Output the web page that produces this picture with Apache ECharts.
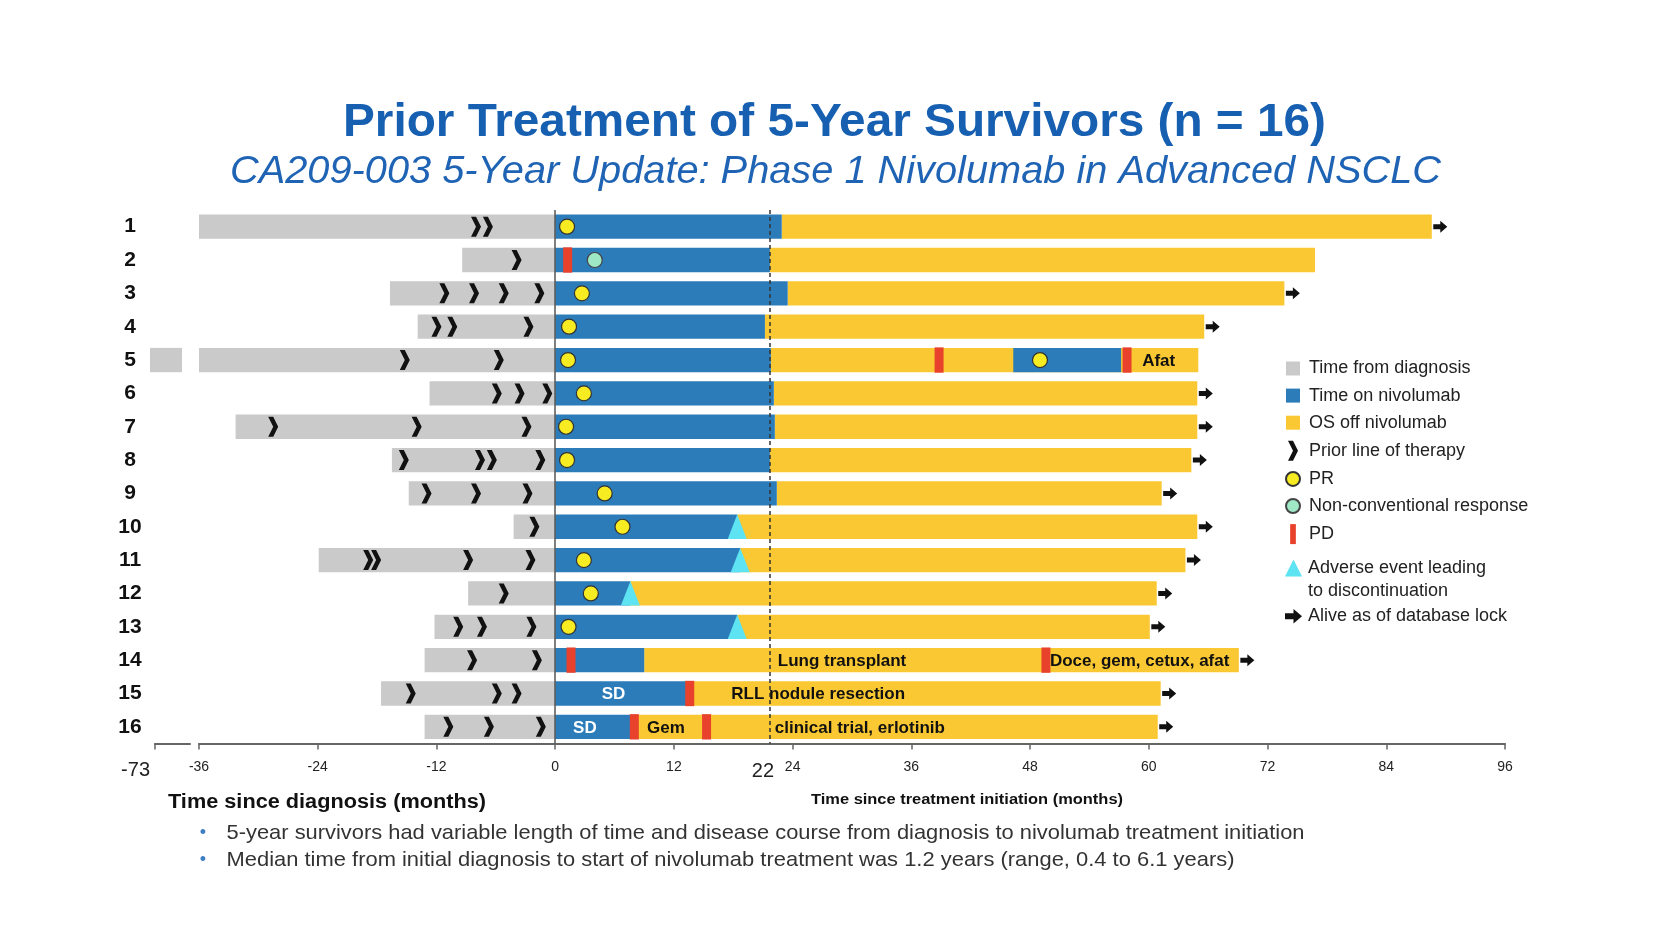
<!DOCTYPE html>
<html>
<head>
<meta charset="utf-8">
<script src="https://cdn.jsdelivr.net/npm/echarts@6/dist/echarts.min.js"></script>
<style>html,body{margin:0;padding:0;background:#fff}#chart{width:1680px;height:945px}</style>
</head>
<body>
<div id="chart"></div>
<script>
// ---------------- DATA ----------------
const patientIds = ['1','2','3','4','5','6','7','8','9','10','11','12','13','14','15','16'];
// months relative to nivolumab start (0)
const diagnosisStart = [-36.0, -9.4, -16.7, -13.9, -36.0, -12.7, -32.3, -16.5, -14.8, -4.2, -23.9, -8.8, -12.2, -13.2, -17.6, -13.2];
// patient 5 was diagnosed before the axis break (row index, start, end)
const earlyDiagnosis = [[4, -73.5, -70.3]];
const nivoEnd = [22.9, 21.7, 23.5, 21.2, 21.8, 22.1, 22.2, 21.7, 22.4, 18.4, 18.7, 7.6, 18.4, 9.0, 13.6, 8.0];
const osEnd = [88.6, 76.8, 73.7, 65.6, 65.0, 64.9, 64.9, 64.3, 61.3, 64.9, 63.7, 60.8, 60.1, 69.1, 61.2, 60.9];
const aliveAtLock = [1, 0, 1, 1, 0, 1, 1, 1, 1, 1, 1, 1, 1, 1, 1, 1];
const nivoRetreatment = [[4, 46.3, 57.2]];
const priorLines = [
  [-8.0, -6.8], [-3.9], [-11.2, -8.2, -5.2, -1.6], [-12.0, -10.4, -2.7],
  [-15.2, -5.7], [-5.9, -3.6, -0.8], [-28.5, -14.0, -2.9], [-15.3, -7.6, -6.4, -1.5],
  [-13.0, -8.0, -2.8], [-2.1], [-18.9, -18.1, -8.8, -2.5], [-5.2],
  [-9.8, -7.4, -2.4], [-8.4, -1.85], [-14.6, -5.9, -3.9], [-10.8, -6.7, -1.45]
];
const prRow = [1, 3, 4, 5, 5, 6, 7, 8, 9, 10, 11, 12, 13];
const prTime = [1.2, 2.7, 1.4, 1.3, 49.0, 2.9, 1.1, 1.2, 5.0, 6.8, 2.9, 3.6, 1.35];
const ncrRow = [2];
const ncrTime = [4.0];
const pdRow = [2, 5, 5, 14, 14, 15, 16, 16];
const pdTime = [1.26, 38.8, 57.8, 1.6, 49.6, 13.6, 8.0, 15.3];
const aeRow = [10, 11, 12, 13];
const aeTime = [18.4, 18.7, 7.6, 18.4];
const noteRow = [5, 14, 14, 15, 15, 16, 16, 16];
const noteTime = [61.0, 22.5, 50.0, 5.9, 17.8, 3.0, 11.2, 22.2];
const noteText = ['Afat', 'Lung transplant', 'Doce, gem, cetux, afat', 'SD', 'RLL nodule resection', 'SD', 'Gem', 'clinical trial, erlotinib'];
const noteAlign = ['center', 'left', 'left', 'center', 'left', 'center', 'center', 'left'];
const noteWhite = [0, 0, 0, 1, 0, 1, 0, 0];
const mainTicks = { min: -36, max: 96, interval: 12 };
const breakTick = -73;
const refLineValue = 21.7;
const refLineLabel = '22';

const titleText = 'Prior Treatment of 5-Year Survivors (n = 16)';
const subtitleText = 'CA209-003 5-Year Update: Phase 1 Nivolumab in Advanced NSCLC';
const xNameLeft = 'Time since diagnosis (months)';
const xNameRight = 'Time since treatment initiation (months)';
const bullets = [
  '5-year survivors had variable length of time and disease course from diagnosis to nivolumab treatment initiation',
  'Median time from initial diagnosis to start of nivolumab treatment was 1.2 years (range, 0.4 to 6.1 years)'
];
const legendNames = ['Time from diagnosis', 'Time on nivolumab', 'OS off nivolumab', 'Prior line of therapy', 'PR', 'Non-conventional response', 'PD', 'Adverse event leading to discontinuation', 'Alive as of database lock'];

// ---------------- STYLE ----------------
const FONT = '"Liberation Sans", Arial, Helvetica, sans-serif';
const GRAY = '#CACACA', BLUE = '#2C7CBA', YELLOW = '#FAC832', RED = '#E8412C', CYAN = '#5DE3F2';
const PRY = '#F7EB22', NCRC = '#9EE8C6';
const BAR_FRAC = 0.73;
const CHEVRON = 'path://M0,0 L5,0 L10,10 L5,20 L0,20 L5,10 Z';
const ARROW = 'path://M0,3.5 L7,3.5 L7,0 L14,6 L7,12 L7,8.5 L0,8.5 Z';

const mctx = document.createElement('canvas').getContext('2d');
function fit(text, font, width) { mctx.font = font; return width / mctx.measureText(text).width; }

function segRender(color) {
  return function (params, api) {
    const row = api.value(0);
    const p0 = api.coord([api.value(1), row]);
    const p1 = api.coord([api.value(2), row]);
    const h = api.size([0, 1])[1] * BAR_FRAC;
    return { type: 'rect', shape: { x: p0[0], y: p0[1] - h / 2, width: p1[0] - p0[0], height: h }, style: { fill: color } };
  };
}
function pdRender(params, api) {
  const p = api.coord([api.value(1), api.value(0)]);
  const h = api.size([0, 1])[1] * BAR_FRAC + 1;
  return { type: 'rect', shape: { x: p[0] - 4.5, y: p[1] - h / 2, width: 9, height: h }, style: { fill: RED } };
}
function aeRender(params, api) {
  const p = api.coord([api.value(1), api.value(0)]);
  const h = api.size([0, 1])[1] * BAR_FRAC;
  return { type: 'polygon', shape: { points: [[p[0] - 9.5, p[1] + h / 2], [p[0], p[1] - h / 2], [p[0] + 9.5, p[1] + h / 2]] }, style: { fill: CYAN } };
}
function noteRender(params, api) {
  const i = params.dataIndex;
  const p = api.coord([api.value(1), api.value(0)]);
  return { type: 'text', x: p[0], y: p[1] + 1, style: { text: noteText[i], font: 'bold 17px ' + FONT, fill: noteWhite[i] ? '#ffffff' : '#111111', align: noteAlign[i], verticalAlign: 'middle' } };
}

const rows = patientIds.map((_, i) => i);
const graySeg = rows.map(i => [i, diagnosisStart[i], 0]);
const blueSeg = rows.map(i => [i, 0, nivoEnd[i]]).concat(nivoRetreatment);
const yellowSeg = rows.map(i => [i, nivoEnd[i], osEnd[i]]);
const chevronPts = [];
priorLines.forEach((arr, i) => arr.forEach(v => chevronPts.push([v, i])));
const prPts = prRow.map((r, k) => [prTime[k], r - 1]);
const ncrPts = ncrRow.map((r, k) => [ncrTime[k], r - 1]);
const pdPts = pdRow.map((r, k) => [r - 1, pdTime[k]]);
const aePts = aeRow.map((r, k) => [r - 1, aeTime[k]]);
const notePts = noteRow.map((r, k) => [r - 1, noteTime[k]]);
const arrowPts = rows.filter(i => aliveAtLock[i]).map(i => [osEnd[i], i]);

const TITLE_FONT = 'bold 46px ' + FONT;
const SUB_FONT = 'italic 39px ' + FONT;
const XL_FONT = 'bold 20px ' + FONT;
const XR_FONT = 'bold 14px ' + FONT;
const BUL_FONT = '21px ' + FONT;

const chart = echarts.init(document.getElementById('chart'), null, { renderer: 'canvas' });
const option = {
  backgroundColor: '#ffffff',
  animation: false,
  textStyle: { fontFamily: FONT },
  grid: [
    { left: 199, right: 175, top: 210, bottom: 201.5 },
    { left: 155, width: 35, top: 210, bottom: 201.5 }
  ],
  xAxis: [
    {
      gridIndex: 0, type: 'value', min: mainTicks.min, max: mainTicks.max, interval: mainTicks.interval,
      axisLine: { show: true, onZero: false, lineStyle: { color: '#666', width: 2 } },
      axisTick: { show: true, length: 6, lineStyle: { color: '#666', width: 1.5 } },
      axisLabel: { fontSize: 14, color: '#222', margin: 17, fontFamily: FONT },
      splitLine: { show: false }
    },
    {
      gridIndex: 1, type: 'value', min: breakTick, max: -69.5,
      axisLine: { show: true, onZero: false, lineStyle: { color: '#666', width: 2 } },
      axisTick: { show: true, length: 6, customValues: [breakTick], lineStyle: { color: '#666', width: 1.5 } },
      axisLabel: { customValues: [breakTick], fontSize: 20, color: '#222', margin: 17, align: 'right', padding: [0, 5, 0, 0], fontFamily: FONT },
      splitLine: { show: false }
    }
  ],
  yAxis: [
    {
      gridIndex: 0, type: 'category', data: patientIds, inverse: true,
      axisLine: { show: false }, axisTick: { show: false },
      axisLabel: { margin: 69, align: 'center', fontSize: 21, fontWeight: 'bold', color: '#111', fontFamily: FONT }
    },
    { gridIndex: 1, type: 'category', data: patientIds, inverse: true, show: false }
  ],
  legend: [
    {
      left: 1285, top: 359.5, orient: 'vertical', padding: 0, itemWidth: 14, itemHeight: 20, itemGap: 9.1,
      selectedMode: false, symbolKeepAspect: true,
      textStyle: { fontSize: 18, color: '#222', padding: [0, 0, 0, 4], fontFamily: FONT },
      data: [
        { name: legendNames[0], icon: 'path://M0,0H14V14H0Z' },
        { name: legendNames[1], icon: 'path://M0,0H14V14H0Z' },
        { name: legendNames[2], icon: 'path://M0,0H14V14H0Z' },
        { name: legendNames[3], icon: CHEVRON },
        { name: legendNames[4], icon: 'circle' },
        { name: legendNames[5], icon: 'circle' },
        { name: legendNames[6], icon: 'path://M0,0H6V21H0Z' }
      ]
    },
    {
      left: 1285, top: 559, orient: 'vertical', padding: 0, itemWidth: 17, itemHeight: 20, itemGap: 30.3,
      selectedMode: false, symbolKeepAspect: true,
      textStyle: { fontSize: 18, color: '#222', padding: [0, 0, 0, 1], fontFamily: FONT },
      formatter: function (n) { return n === legendNames[7] ? 'Adverse event leading' : n; },
      data: [
        { name: legendNames[7], icon: 'path://M0,17 L8.5,0 L17,17 Z' },
        { name: legendNames[8], icon: ARROW }
      ]
    }
  ],
  series: [
    {
      name: legendNames[0], type: 'custom', xAxisIndex: 0, yAxisIndex: 0, z: 2,
      itemStyle: { color: GRAY }, renderItem: segRender(GRAY), encode: { x: [1, 2], y: 0 }, data: graySeg
    },
    {
      name: legendNames[0], type: 'custom', xAxisIndex: 1, yAxisIndex: 1, z: 2, clip: false,
      itemStyle: { color: GRAY }, renderItem: segRender(GRAY), encode: { x: [1, 2], y: 0 }, data: earlyDiagnosis
    },
    {
      name: legendNames[2], type: 'custom', z: 2,
      itemStyle: { color: YELLOW }, renderItem: segRender(YELLOW), encode: { x: [1, 2], y: 0 }, data: yellowSeg
    },
    {
      name: legendNames[1], type: 'custom', z: 3,
      itemStyle: { color: BLUE }, renderItem: segRender(BLUE), encode: { x: [1, 2], y: 0 }, data: blueSeg,
      markLine: {
        silent: true, symbol: 'none', animation: false,
        data: [
          { xAxis: 0, lineStyle: { color: '#555', width: 1.5, type: 'solid' }, label: { show: false } },
          {
            xAxis: refLineValue, lineStyle: { color: '#333', width: 1.5, type: [4, 3] },
            label: { show: true, position: 'end', formatter: refLineLabel, fontSize: 20, color: '#222', distance: 17, offset: [-7, 1], fontFamily: FONT }
          }
        ]
      }
    },
    {
      name: legendNames[6], type: 'custom', z: 4,
      itemStyle: { color: RED }, renderItem: pdRender, encode: { x: 1, y: 0 }, data: pdPts
    },
    {
      name: legendNames[7], type: 'custom', z: 4,
      itemStyle: { color: CYAN }, renderItem: aeRender, encode: { x: 1, y: 0 }, data: aePts
    },
    {
      name: 'notes', type: 'custom', z: 6, renderItem: noteRender, encode: { x: 1, y: 0 }, data: notePts
    },
    {
      name: legendNames[3], type: 'scatter', z: 5, symbol: CHEVRON, symbolSize: [10, 20],
      itemStyle: { color: '#111', opacity: 1 }, data: chevronPts
    },
    {
      name: legendNames[4], type: 'scatter', z: 5, symbol: 'circle', symbolSize: 15,
      itemStyle: { color: PRY, borderColor: '#333', borderWidth: 1.2, opacity: 1 }, data: prPts
    },
    {
      name: legendNames[5], type: 'scatter', z: 5, symbol: 'circle', symbolSize: 15,
      itemStyle: { color: NCRC, borderColor: '#444', borderWidth: 1.2, opacity: 1 }, data: ncrPts
    },
    {
      name: legendNames[8], type: 'scatter', z: 5, symbol: ARROW, symbolSize: [14, 12], symbolOffset: [8.5, 0],
      itemStyle: { color: '#111', opacity: 1 }, data: arrowPts
    }
  ],
  graphic: [
    { type: 'text', x: 343, y: 123, scaleX: fit(titleText, TITLE_FONT, 983), style: { text: titleText, font: TITLE_FONT, fill: '#165FB1', align: 'left', verticalAlign: 'middle' } },
    { type: 'text', x: 230, y: 172, scaleX: fit(subtitleText, SUB_FONT, 1211), style: { text: subtitleText, font: SUB_FONT, fill: '#1E63B4', align: 'left', verticalAlign: 'middle' } },
    { type: 'text', x: 168, y: 802, scaleX: fit(xNameLeft, XL_FONT, 318), style: { text: xNameLeft, font: XL_FONT, fill: '#111', align: 'left', verticalAlign: 'middle' } },
    { type: 'text', x: 811, y: 800, scaleX: fit(xNameRight, XR_FONT, 312), style: { text: xNameRight, font: XR_FONT, fill: '#111', align: 'left', verticalAlign: 'middle' } },
    { type: 'text', x: 203, y: 833, style: { text: '\u2022', font: '18px ' + FONT, fill: '#3D7EC4', align: 'center', verticalAlign: 'middle' } },
    { type: 'text', x: 203, y: 860, style: { text: '\u2022', font: '18px ' + FONT, fill: '#3D7EC4', align: 'center', verticalAlign: 'middle' } },
    { type: 'text', x: 226.5, y: 833, scaleX: fit(bullets[0], BUL_FONT, 1078), style: { text: bullets[0], font: BUL_FONT, fill: '#333', align: 'left', verticalAlign: 'middle' } },
    { type: 'text', x: 226.5, y: 860, scaleX: fit(bullets[1], BUL_FONT, 1008), style: { text: bullets[1], font: BUL_FONT, fill: '#333', align: 'left', verticalAlign: 'middle' } },
    { type: 'text', x: 1308, y: 591.5, style: { text: 'to discontinuation', font: '18px ' + FONT, fill: '#222', align: 'left', verticalAlign: 'middle' } }
  ]
};
chart.setOption(option);
</script>
</body>
</html>
